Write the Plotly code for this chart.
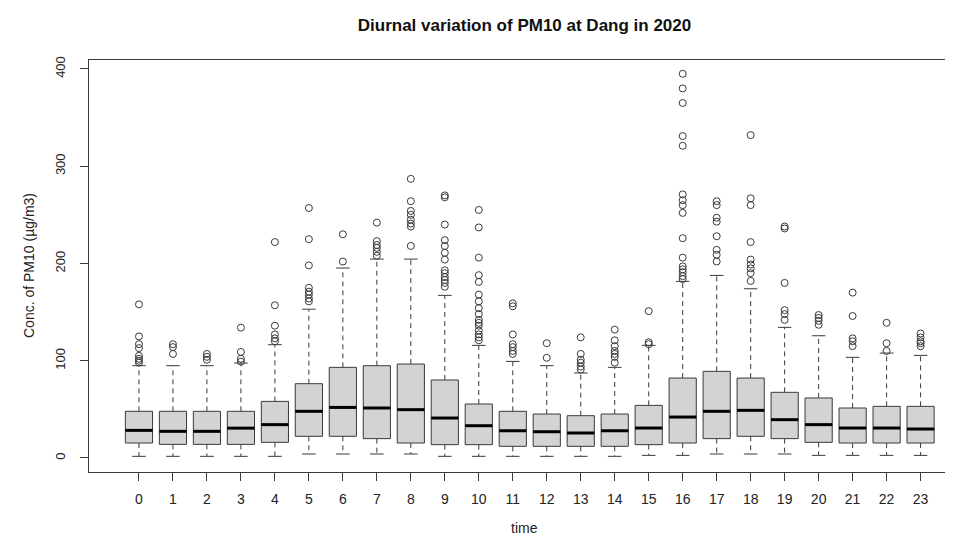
import plotly.graph_objects as go

# ---- data ----
hours = list(range(24))
tick_labels = [str(h) for h in hours]
q1 = [15.4, 14, 14, 14, 16.1, 22.3, 22.3, 19.9, 15.4, 13.7, 13.7, 12,
      12, 12, 12, 13.7, 15.4, 19.9, 22.3, 19.9, 16.1, 15.4, 15.4, 15.4]
median = [28.4, 27.4, 27.4, 30.7, 34.3, 48, 52, 51.4, 49.7, 41.1, 33.2, 28,
          27, 25.7, 28, 30.8, 42.1, 48, 49, 39.4, 34.3, 30.8, 30.8, 29.8]
q3 = [48, 48, 48, 48, 58.2, 76.4, 93.2, 94.9, 96.6, 80.2, 55.5, 48,
      45.2, 43.5, 45.2, 54.1, 82.2, 89.1, 82.2, 67.5, 61.7, 51.4, 53.1, 53.1]
lower_whisker = [1.7, 1.7, 1.7, 1.7, 1.7, 4.1, 4.1, 4.1, 4.1, 1.7, 1.7, 1.7,
                 1.7, 1.7, 1.7, 2.7, 2.7, 4.1, 4.1, 4.1, 2.7, 2.7, 2.7, 2.7]
upper_whisker = [94.9, 94.9, 94.9, 97.6, 116.5, 153, 195.3, 204.5, 204.5, 167.2, 115.8, 99.3,
                 94.9, 87.4, 93.2, 115.8, 181.6, 187.7, 174, 134.3, 125.7, 103.5, 107.9, 105.5]
outliers = [
    [158, 125, 117, 113, 105, 102, 100, 98],
    [117, 114, 107],
    [107, 104, 101],
    [134, 109, 102, 99],
    [222, 157, 136, 127, 123, 120],
    [257, 225, 198, 175, 171, 168, 164, 161],
    [230, 202],
    [242, 223, 219, 216, 212, 208],
    [287, 264, 254, 250, 245, 241, 238, 218],
    [270, 268, 240, 224, 218, 211, 204, 193, 190, 186, 183, 180, 176],
    [255, 237, 206, 188, 181, 168, 161, 154, 148, 142, 139, 136, 131, 127, 124, 121],
    [159, 156, 127, 117, 114, 110, 107],
    [118, 103],
    [124, 107, 101, 98, 94, 91],
    [132, 121, 115, 110, 107, 104, 98],
    [151, 119, 117],
    [395, 380, 365, 331, 321, 271, 265, 260, 252, 226, 206, 197, 194, 191, 187, 184],
    [264, 260, 247, 243, 228, 214, 209, 202],
    [332, 267, 260, 222, 204, 199, 195, 190, 182],
    [238, 236, 180, 152, 148, 142],
    [147, 144, 141, 137],
    [170, 146, 123, 120, 115],
    [139, 118, 110],
    [128, 124, 120, 118, 115],
]
y_ticks = [0, 100, 200, 300, 400]

BOX_W = 0.8
CAP_W = 0.4
FONT = "Liberation Sans, Arial, sans-serif"
INK = "#3a3a3a"

# whiskers (dashed), caps and medians as segments built from the data
wx, wy, cx, cy, mx, my = [], [], [], [], [], []
for h, a, m, b, lo, hi in zip(hours, q1, median, q3, lower_whisker, upper_whisker):
    wx += [h, h, None, h, h, None]
    wy += [b, hi, None, a, lo, None]
    cx += [h - CAP_W / 2, h + CAP_W / 2, None, h - CAP_W / 2, h + CAP_W / 2, None]
    cy += [hi, hi, None, lo, lo, None]
    mx += [h - BOX_W / 2, h + BOX_W / 2, None]
    my += [m, m, None]

ox, oy = [], []
for h, vals in zip(hours, outliers):
    for v in vals:
        ox.append(h)
        oy.append(v)

fig = go.Figure()
fig.add_trace(go.Scatter(x=wx, y=wy, mode="lines",
                         line=dict(color=INK, width=1, dash="5px,4px"),
                         hoverinfo="skip", showlegend=False))
fig.add_trace(go.Scatter(x=cx, y=cy, mode="lines",
                         line=dict(color=INK, width=1),
                         hoverinfo="skip", showlegend=False))
fig.add_trace(go.Box(x=hours, q1=q1, median=median, q3=q3,
                     lowerfence=q1, upperfence=q3, width=BOX_W,
                     fillcolor="#d3d3d3", line=dict(color=INK, width=1),
                     boxpoints=False, whiskerwidth=0, showlegend=False))
fig.add_trace(go.Scatter(x=mx, y=my, mode="lines",
                         line=dict(color="#000000", width=3),
                         hoverinfo="skip", showlegend=False))
fig.add_trace(go.Scatter(x=ox, y=oy, mode="markers",
                         marker=dict(symbol="circle-open", size=7, color=INK,
                                     line=dict(width=1, color=INK)),
                         showlegend=False))

fig.update_layout(
    width=953, height=538,
    margin=dict(l=81, r=1, t=52, b=74),
    paper_bgcolor="white", plot_bgcolor="white",
    font=dict(family=FONT, color="#222222"),
    title=dict(text="<b>Diurnal variation of PM10 at Dang in 2020</b>",
               x=0.5, xref="paper", y=1 - 17 / 538, yref="container",
               yanchor="middle", xanchor="center",
               font=dict(size=17, family=FONT, color="#111111")),
    xaxis=dict(range=[-1.47, 24.16], tickmode="array", tickvals=hours, ticktext=tick_labels,
               ticks="outside", ticklen=8, tickcolor=INK, tickwidth=1,
               showline=True, mirror=True, linecolor=INK, linewidth=1,
               showgrid=False, zeroline=False, ticklabelstandoff=6,
               tickfont=dict(size=14, family=FONT, color="#222222")),
    yaxis=dict(range=[-14.4, 409.2], tickmode="array", tickvals=y_ticks,
               ticktext=[str(v) for v in y_ticks], tickangle=-90,
               ticks="outside", ticklen=8, tickcolor=INK, tickwidth=1,
               showline=True, mirror=True, linecolor=INK, linewidth=1,
               showgrid=False, zeroline=False, ticklabelstandoff=10,
               tickfont=dict(size=13, family=FONT, color="#222222")),
    annotations=[
        dict(text="time", xref="paper", yref="paper", x=0.5, y=-(520 - 464) / 412,
             xanchor="center", yanchor="middle", showarrow=False,
             font=dict(size=14, family=FONT, color="#222222")),
        dict(text="Conc. of PM10 (µg/m3)", xref="paper", yref="paper",
             x=-(81 - 21) / 871, y=0.5, xanchor="center", yanchor="middle",
             textangle=-90, showarrow=False,
             font=dict(size=14, family=FONT, color="#222222")),
    ],
)

fig.write_html("out.html")
